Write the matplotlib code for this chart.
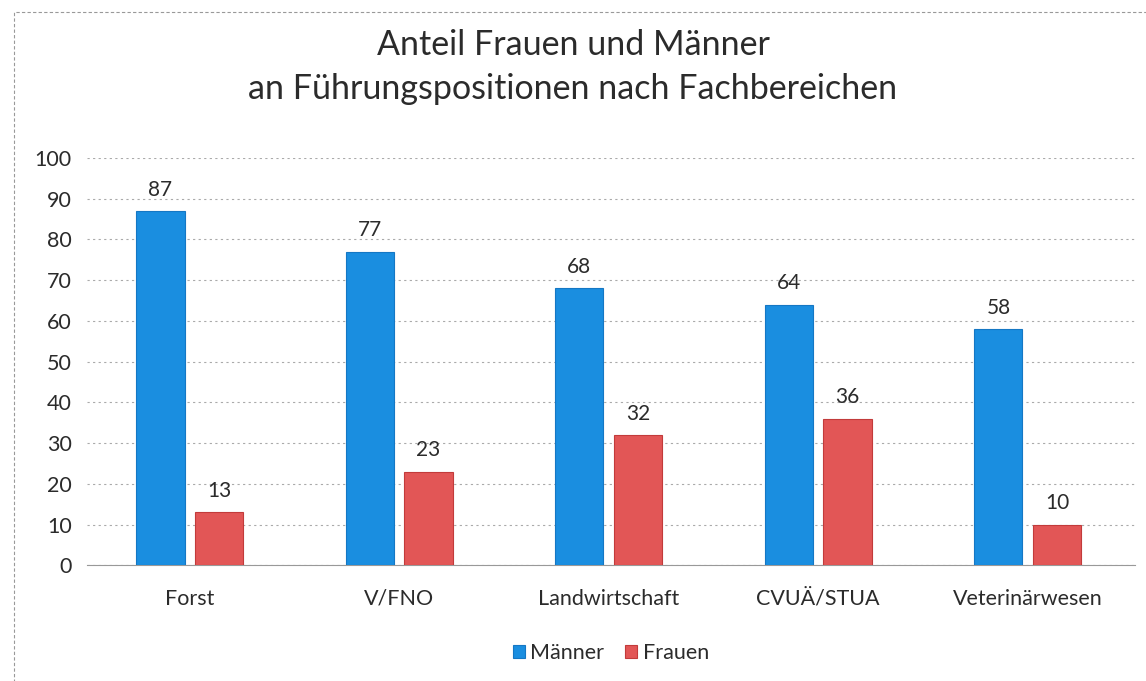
import numpy as np
import matplotlib.pyplot as plt
from matplotlib.patches import Rectangle

plt.rcParams['font.family'] = ['Lato', 'DejaVu Sans']

categories = ['Forst', 'V/FNO', 'Landwirtschaft', 'CVUÄ/STUA', 'Veterinärwesen']
maenner = [87, 77, 68, 64, 58]
frauen = [13, 23, 32, 36, 10]

blue = '#1a8ee0'
red = '#e25656'
txt = '#2b2b2b'

fig = plt.figure(figsize=(11.46, 6.81), dpi=100)
ax = fig.add_axes([0.076, 0.170, 0.914, 0.598])

x = np.arange(len(categories))
w = 0.23
b1 = ax.bar(x - 0.14, maenner, w, color=blue, edgecolor='#1577c4', linewidth=0.8, label='Männer', zorder=3)
b2 = ax.bar(x + 0.14, frauen, w, color=red, edgecolor='#c23b3b', linewidth=0.8, label='Frauen', zorder=3)

for bars, vals in ((b1, maenner), (b2, frauen)):
    for r, v in zip(bars, vals):
        ax.text(r.get_x() + r.get_width() / 2, v + 2.8, str(v), ha='center', va='bottom',
                fontsize=15, color=txt)

ax.set_xlim(-0.49, 4.51)
ax.set_ylim(0, 100)
ax.set_yticks(range(0, 101, 10))
ax.set_xticks(x)
ax.set_xticklabels(categories)
ax.tick_params(axis='both', length=0, labelsize=15.5, colors=txt)
ax.tick_params(axis='x', pad=17)
ax.tick_params(axis='y', pad=11)
ax.grid(axis='y', color='#aaaaaa', linestyle=(0, (2, 3)), linewidth=0.8, zorder=0)
for s in ['top', 'right', 'left']:
    ax.spines[s].set_visible(False)
ax.spines['bottom'].set_color('#999999')
ax.spines['bottom'].set_linewidth(0.8)

fig.text(0.5, 0.934, 'Anteil Frauen und Männer', ha='center', va='center', fontsize=24.5, color=txt)
fig.text(0.5, 0.870, 'an Führungspositionen nach Fachbereichen', ha='center', va='center', fontsize=24.5, color=txt)

ax.legend(loc='center', bbox_to_anchor=(0.5, -0.215), ncol=2, frameon=False, fontsize=15.5,
          handlelength=0.55, handleheight=0.55, handletextpad=0.25, columnspacing=1.0, labelcolor=txt)

# dashed frame round the chart area (right and bottom edges run off the page)
fig.patches.append(Rectangle((0.012, -0.05), 1.05, 1.032, transform=fig.transFigure, fill=False,
                             edgecolor='#999999', linestyle=(0, (3, 2)), linewidth=0.8))

fig.savefig('out.png', dpi=100)
